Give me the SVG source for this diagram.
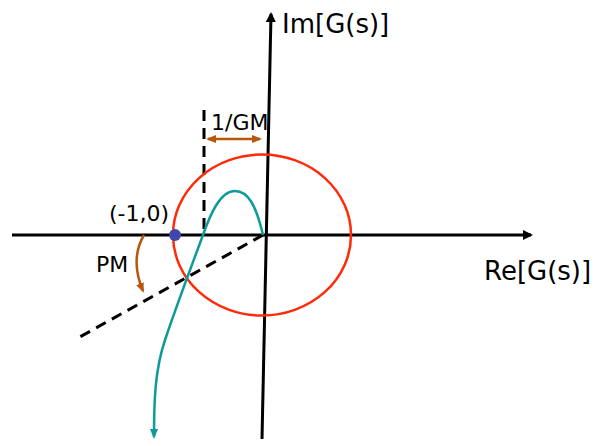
<svg xmlns="http://www.w3.org/2000/svg" width="595" height="446" viewBox="0 0 595 446">
<style>
.lbl{font-family:"DejaVu Sans",Tahoma,sans-serif;fill:#000}
.axis{stroke:#000;stroke-width:3;fill:none}
.dash{stroke:#000;stroke-width:3;fill:none;stroke-dasharray:11,7}
.brown{stroke:#B8560C;stroke-width:2.5;fill:none}
</style>
<defs>
<marker id="ah" markerWidth="10" markerHeight="10" refX="8" refY="5" orient="auto" markerUnits="userSpaceOnUse"><path d="M0,0 L10,5 L0,10 Z" fill="#000"/></marker>
<marker id="bh" markerWidth="10" markerHeight="10" refX="8" refY="5" orient="auto-start-reverse" markerUnits="userSpaceOnUse"><path d="M0,1 L10,5 L0,9 Z" fill="#B8560C"/></marker>
<marker id="th" markerWidth="10" markerHeight="10" refX="8" refY="5" orient="auto" markerUnits="userSpaceOnUse"><path d="M0,1 L10,5 L0,9 Z" fill="#0E9A9A"/></marker>
</defs>
<g id="connectors">
<line class="axis" x1="12" y1="235" x2="531" y2="235" marker-end="url(#ah)"/>
<line class="axis" x1="262" y1="439" x2="271" y2="14" marker-end="url(#ah)"/>
<line class="dash" x1="263" y1="235" x2="78" y2="338"/>
<line class="dash" x1="204" y1="110" x2="204" y2="235"/>
<line class="brown" x1="208" y1="139" x2="260" y2="139" marker-start="url(#bh)" marker-end="url(#bh)"/>
<path class="brown" d="M144,235 C134,252 135,272 143,291" marker-end="url(#bh)"/>
</g>
<g id="circle"><ellipse cx="262" cy="235" rx="89" ry="80.5" fill="none" stroke="#FF2A0A" stroke-width="2.5"/></g>
<g id="nyquist"><path d="M263,235 C256,205 248,191 235,191 C220,191 210,215 203,235 C190,270 175,310 165,340 C155,370 154,400 154,437" fill="none" stroke="#0E9A9A" stroke-width="2.5" marker-end="url(#th)"/></g>
<g id="point"><circle cx="175" cy="235" r="6" fill="#3F48AA"/></g>
<g id="labels">
<text class="lbl" x="282" y="33" font-size="26">Im[G(s)]</text>
<text class="lbl" x="484" y="280" font-size="26">Re[G(s)]</text>
<text class="lbl" x="211" y="130" font-size="22">1/GM</text>
<text class="lbl" x="109" y="221" font-size="22">(-1,0)</text>
<text class="lbl" x="96" y="272" font-size="22">PM</text>
</g>
</svg>
